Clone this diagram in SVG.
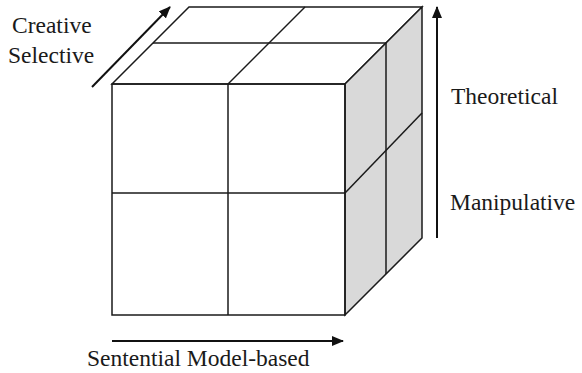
<svg xmlns="http://www.w3.org/2000/svg" width="582" height="373" viewBox="0 0 582 373">
<style>
.e{fill:none;stroke:#1a1a1a;stroke-width:1.5;stroke-linejoin:miter}
.a{fill:none;stroke:#111;stroke-width:2}
.t{font-family:'Liberation Serif','Times New Roman',Tinos,'DejaVu Serif',serif;font-size:23.5px;fill:#1a1a1a}
</style>
<defs>
<marker id="ah" viewBox="0 0 12 10" refX="11" refY="5" markerWidth="12" markerHeight="10" markerUnits="userSpaceOnUse" orient="auto">
<path d="M0,0 L12,5 L0,10 Z" fill="#111"/>
</marker>
</defs>
<g id="cube">
<g id="top-face"><polygon class="e" points="112,84 189,7 422,7 345,84" fill="#fff"/></g>
<g id="right-face"><polygon class="e" points="345,84 422,7 422,238 345,315" style="fill:#d9d9d9"/></g>
<g id="front-face"><rect class="e" x="112" y="84" width="233" height="231" fill="#fff"/></g>
<g id="grid">
<line class="e" x1="228" y1="84" x2="228" y2="315"/>
<line class="e" x1="112" y1="193" x2="345" y2="193"/>
<line class="e" x1="153" y1="43" x2="386" y2="43"/>
<line class="e" x1="228" y1="84" x2="305" y2="7"/>
<line class="e" x1="386" y1="43" x2="386" y2="274"/>
<line class="e" x1="345" y1="193" x2="422" y2="113"/>
</g>
</g>
<g id="connectors">
<line class="a" x1="92" y1="87" x2="170" y2="7" marker-end="url(#ah)"/>
<line class="a" x1="437" y1="238" x2="437" y2="7" marker-end="url(#ah)"/>
<line class="a" x1="112" y1="341" x2="343" y2="341" marker-end="url(#ah)"/>
</g>
<g id="labels">
<text class="t" x="12" y="33">Creative</text>
<text class="t" x="8" y="63">Selective</text>
<text class="t" x="451" y="104">Theoretical</text>
<text class="t" x="450" y="210">Manipulative</text>
<text class="t" x="87" y="366">Sentential Model-based</text>
</g>
</svg>
